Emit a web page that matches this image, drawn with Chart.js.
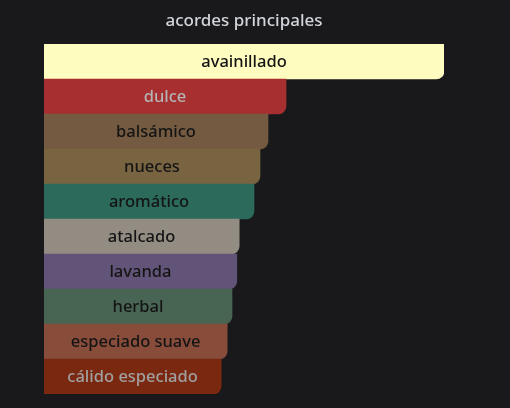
<!DOCTYPE html>
<html>
<head>
<meta charset="utf-8">
<script src="https://cdn.jsdelivr.net/npm/chart.js@4/dist/chart.umd.min.js"></script>
<style>
  html, body { margin: 0; padding: 0; background: #19191b; }
  #wrap { width: 510px; height: 408px; position: relative; }
</style>
</head>
<body>
<div id="wrap"><canvas id="chart"></canvas></div>
<script>
  // accord names, top to bottom
  const accords = [
    'avainillado', 'dulce', 'balsámico', 'nueces', 'aromático',
    'atalcado', 'lavanda', 'herbal', 'especiado suave', 'cálido especiado',
  ];
  // relative strength (0-100)
  const strengths = [100, 60.5, 56, 54, 52.5, 48.8, 48.2, 47, 45.8, 44.3];
  const barColors = [
    '#fffcbf', '#a72f30', '#735a41', '#796442', '#2c6a5c',
    '#938c82', '#625478', '#486553', '#884c3b', '#7a2810',
  ];
  const labelColors = [
    '#141414', '#b4b4b4', '#141414', '#141414', '#141414',
    '#141414', '#141414', '#141414', '#141414', '#a0a0a0',
  ];

  const FONT = "'Noto Sans', sans-serif";

  // draws the accord name centred inside each bar
  const barLabels = {
    id: 'barLabels',
    afterDatasetsDraw(chart) {
      const ctx = chart.ctx;
      const meta = chart.getDatasetMeta(0);
      ctx.save();
      ctx.font = '500 16.5px ' + FONT;
      ctx.textAlign = 'center';
      ctx.textBaseline = 'middle';
      meta.data.forEach((bar, i) => {
        const { x, y, base } = bar.getProps(['x', 'y', 'base'], true);
        ctx.fillStyle = labelColors[i];
        ctx.fillText(accords[i], (x + base) / 2, y + 0.5);
      });
      ctx.restore();
    },
  };

  new Chart(document.getElementById('chart'), {
    type: 'bar',
    data: {
      labels: accords,
      datasets: [{
        data: strengths,
        backgroundColor: barColors,
        borderRadius: { topLeft: 0, bottomLeft: 0, topRight: 0, bottomRight: 8 },
        borderSkipped: false,
        categoryPercentage: 1,
        barPercentage: 1,
      }],
    },
    options: {
      indexAxis: 'y',
      responsive: true,
      maintainAspectRatio: false,
      animation: false,
      layout: { padding: { left: 44, right: 66, top: 3.6, bottom: 14 } },
      scales: {
        x: { display: false, min: 0, max: 100 },
        y: { display: false },
      },
      plugins: {
        legend: { display: false },
        tooltip: { enabled: false },
        title: {
          display: true,
          text: 'acordes principales',
          color: '#d2d5db',
          font: { family: FONT, size: 17, weight: 500 },
          padding: { top: 7, bottom: 13 },
        },
      },
    },
    plugins: [barLabels],
  });
</script>
</body>
</html>
